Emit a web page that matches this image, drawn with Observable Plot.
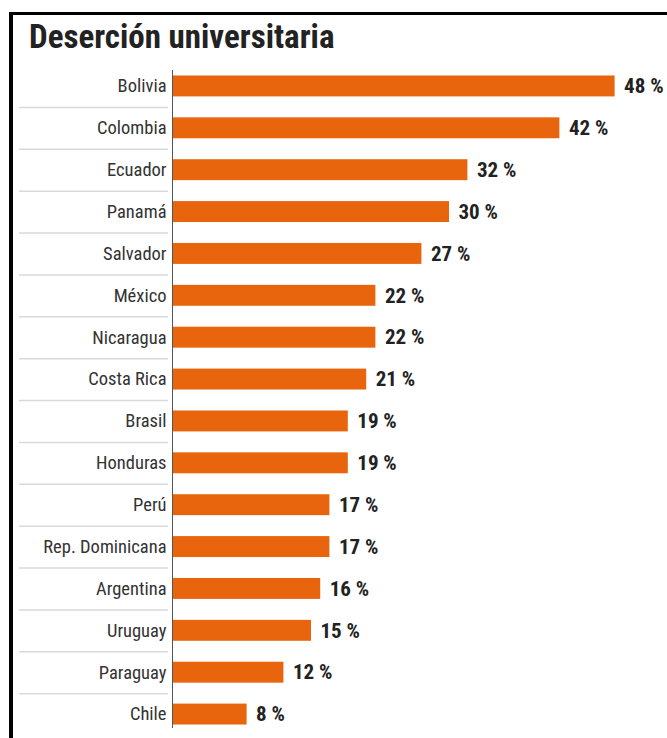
<!DOCTYPE html>
<html>
<head>
<meta charset="utf-8">
<script src="https://cdn.jsdelivr.net/npm/d3@7"></script>
<script src="https://cdn.jsdelivr.net/npm/@observablehq/plot@0.6"></script>
<style>
  html, body { margin: 0; padding: 0; background: #fff; }
  body { width: 667px; height: 738px; overflow: hidden; position: relative;
         font-family: "Roboto Condensed", "Liberation Sans Narrow", "DejaVu Sans Condensed", Roboto, sans-serif; font-stretch: condensed; }
  #frame { position: absolute; left: 9px; top: 12px; width: 720px; height: 740px;
           border-top: 3px solid #000; border-left: 4px solid #000; }
  #title { position: absolute; left: 29px; top: 18px; font-size: 33px; font-weight: bold; color: #222;
           white-space: nowrap; line-height: 1.15; }
  #chart { position: absolute; left: 0; top: 0; }
</style>
</head>
<body>
<div id="frame"></div>
<div id="chart"></div>
<div id="title">Deserción universitaria</div>
<script>
const countries = ["Bolivia","Colombia","Ecuador","Panamá","Salvador","México","Nicaragua","Costa Rica","Brasil","Honduras","Perú","Rep. Dominicana","Argentina","Uruguay","Paraguay","Chile"];
const values = [48, 42, 32, 30, 27, 22, 22, 21, 19, 19, 17, 17, 16, 15, 12, 8];
const valueLabels = ["48 %","42 %","32 %","30 %","27 %","22 %","22 %","21 %","19 %","19 %","17 %","17 %","16 %","15 %","12 %","8 %"];

const data = countries.map((c, i) => ({country: c, value: values[i], label: valueLabels[i]}));
const font = '"Roboto Condensed", "Liberation Sans Narrow", "DejaVu Sans Condensed", Roboto, sans-serif';

const height = 738, marginTop = 65, marginBottom = 3;
const step = (height - marginTop - marginBottom) / countries.length;

const chart = Plot.plot({
  width: 667,
  height,
  marginLeft: 173,
  marginRight: 34,
  marginTop,
  marginBottom,
  style: {fontFamily: font, background: "transparent", overflow: "visible"},
  x: {domain: [0, 50], axis: null},
  y: {domain: countries, paddingInner: 0.5, paddingOuter: 0.25, round: false, label: null},
  marks: [
    Plot.axisY(countries.slice(0, -1), {tickSize: 149, dx: -5, dy: step / 2, fill: "none", stroke: "#d9d9d9", strokeWidth: 1.5}),
    Plot.axisY({tickSize: 0, tickPadding: 7, fontSize: 18.5, fill: "#333", label: null}),
    Plot.barX(data, {x: "value", y: "country", fill: "#E8650D"}),
    Plot.ruleX([0], {stroke: "#555", strokeWidth: 1, dx: -1, insetTop: 5, insetBottom: 7}),
    Plot.text(data, {x: "value", y: "country", text: "label", textAnchor: "start", dx: 9, fontSize: 21, fontWeight: "bold", fill: "#222"})
  ]
});
document.getElementById("chart").appendChild(chart);
</script>
</body>
</html>
